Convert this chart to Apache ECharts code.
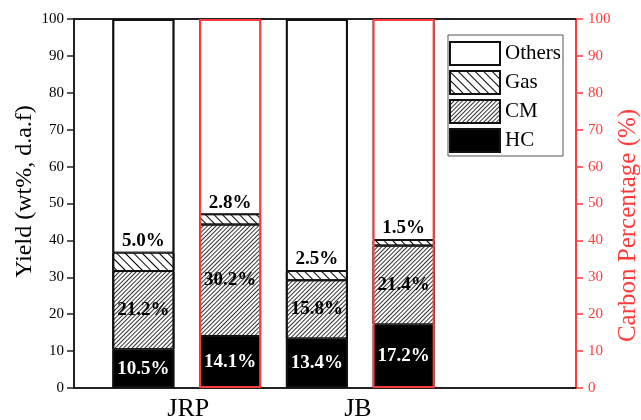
<!DOCTYPE html>
<html>
<head>
<meta charset="utf-8">
<script src="https://cdn.jsdelivr.net/npm/echarts@6/dist/echarts.min.js"></script>
<style>
  html, body { margin: 0; padding: 0; background: #fff; }
  #chart { width: 641px; height: 420px; }
</style>
</head>
<body>
<div id="chart"></div>
<script>
// Samples and where their names sit on the frame's x scale
const samples = ['JRP', 'JB'];
const sampleLabelPos = [1.52, 3.48];

// Bars in drawing order: yield and carbon distribution for each sample
const barNames = ['JRP yield', 'JRP carbon', 'JB yield', 'JB carbon'];
const barIsCarbon = [false, true, false, true];

// HC / CM / Gas shares per bar (yield in wt% d.a.f, carbon in %)
const hcValues = [10.5, 14.1, 13.4, 17.2];
const cmValues = [21.2, 30.2, 15.8, 21.4];
const gasValues = [5.0, 2.8, 2.5, 1.5];

// Left and right axis ticks
const yTicks = [0, 10, 20, 30, 40, 50, 60, 70, 80, 90, 100];

const RED = '#ff3b3b';
const FONT = 'Liberation Serif';

const othersValues = hcValues.map((v, i) => +(100 - v - cmValues[i] - gasValues[i]).toFixed(1));
const totalValues = hcValues.map((v, i) => v + cmValues[i] + gasValues[i] + othersValues[i]);

const pctLabel = p => p.value.toFixed(1) + '%';
const segBorder = { borderColor: '#111', borderWidth: 1 };
const BAR_W = 62;

function barSeries(name, values, itemStyle, label) {
  return {
    name, type: 'bar', stack: 'seg', xAxisIndex: 2, yAxisIndex: 2,
    barWidth: BAR_W, barGap: '-100%',
    data: values, itemStyle: Object.assign(itemStyle, segBorder),
    label: label ? Object.assign({ show: true, fontWeight: 'bold', fontSize: 19,
                                   fontFamily: FONT, formatter: pctLabel }, label)
                 : { show: false }
  };
}

const hcSeries = barSeries('HC', hcValues, { color: '#000' },
  { position: 'inside', color: '#fff' });
const cmSeries = barSeries('CM', cmValues, {
  color: '#fff',
  decal: { symbol: 'rect', symbolSize: 1, dashArrayX: [1, 0], dashArrayY: [1, 2],
           rotation: -Math.PI / 4, color: '#333' }
}, { position: 'inside', color: '#000' });
const gasSeries = barSeries('Gas', gasValues, {
  color: '#fff',
  decal: { symbol: 'rect', symbolSize: 1, dashArrayX: [1, 0], dashArrayY: [1, 5],
           rotation: Math.PI / 4, color: '#000' }
}, { position: 'top', distance: 2, color: '#000' });
const othersSeries = barSeries('Others', othersValues, { color: '#fff' }, null);

// Outer frame of each bar: black for yield, red for carbon
const frameSeries = {
  name: 'frame', type: 'bar', stack: 'frame', xAxisIndex: 2, yAxisIndex: 2,
  barWidth: BAR_W, barGap: '-100%', silent: true, z: 5,
  data: totalValues.map((v, i) => ({
    value: v, itemStyle: { borderColor: barIsCarbon[i] ? RED : '#111' }
  })),
  itemStyle: { color: 'rgba(0,0,0,0)', borderWidth: 2 }
};

const chart = echarts.init(document.getElementById('chart'), null, { renderer: 'canvas' });
chart.setOption({
  animation: false,
  backgroundColor: '#fff',
  grid: [
    // frame with both value axes
    { left: 74, right: 65, top: 19, bottom: 32, outerBoundsMode: 'none' },
    // band holding the four bars
    { left: 100, right: 194, top: 19, bottom: 32, outerBoundsMode: 'none' }
  ],
  legend: {
    data: ['Others', 'Gas', 'CM', 'HC'],
    orient: 'vertical', left: 448, top: 35,
    padding: [6, 2, 3, 1],
    itemWidth: 50, itemHeight: 23, itemGap: 4,
    borderColor: '#555', borderWidth: 1,
    icon: 'rect',
    textStyle: { fontFamily: FONT, fontSize: 21, color: '#000' }
  },
  xAxis: [
    {
      gridIndex: 0, type: 'value', min: 0.2, max: 6, position: 'bottom',
      axisLine: { show: true, onZero: false, lineStyle: { color: '#222', width: 2 } },
      axisTick: { show: false },
      splitLine: { show: false },
      axisLabel: {
        customValues: sampleLabelPos,
        formatter: v => samples[sampleLabelPos.indexOf(v)] || '',
        fontFamily: FONT, fontSize: 26, color: '#000', margin: 8
      }
    },
    {
      gridIndex: 0, type: 'value', min: 0.2, max: 6, position: 'top',
      axisLine: { show: true, onZero: false, lineStyle: { color: '#222', width: 2 } },
      axisTick: { show: false }, axisLabel: { show: false }, splitLine: { show: false }
    },
    {
      gridIndex: 1, type: 'category', data: barNames, show: false
    }
  ],
  yAxis: [
    {
      gridIndex: 0, type: 'value', min: yTicks[0], max: yTicks[yTicks.length - 1], interval: 10,
      position: 'left',
      name: 'Yield (wt%, d.a.f)', nameLocation: 'middle', nameGap: 37, nameRotate: 90,
      nameMoveOverlap: false,
      nameTextStyle: { fontFamily: FONT, fontSize: 24, color: '#000', padding: [0, 0, 0, 24] },
      axisLine: { show: true, lineStyle: { color: '#222', width: 2 } },
      axisTick: { show: true, length: 7, lineStyle: { color: '#222', width: 1.5 } },
      axisLabel: { fontFamily: FONT, fontSize: 15, color: '#000', margin: 10 },
      splitLine: { show: false }
    },
    {
      gridIndex: 0, type: 'value', min: yTicks[0], max: yTicks[yTicks.length - 1], interval: 10,
      position: 'right',
      name: 'Carbon Percentage (%)', nameLocation: 'middle', nameGap: 40, nameRotate: 90,
      nameMoveOverlap: false,
      nameTextStyle: { fontFamily: FONT, fontSize: 25, color: RED, padding: [0, 44, 0, 0] },
      axisLine: { show: true, lineStyle: { color: RED, width: 2 } },
      axisTick: { show: true, length: 7, lineStyle: { color: RED, width: 1.5 } },
      axisLabel: { fontFamily: FONT, fontSize: 15, color: RED, margin: 12 },
      splitLine: { show: false }
    },
    {
      gridIndex: 1, type: 'value', min: yTicks[0], max: yTicks[yTicks.length - 1], show: false
    }
  ],
  series: [hcSeries, cmSeries, gasSeries, othersSeries, frameSeries]
});
</script>
</body>
</html>
